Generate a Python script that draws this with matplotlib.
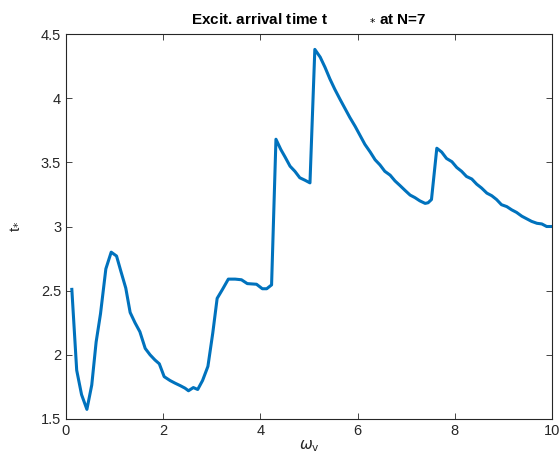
import matplotlib
matplotlib.use("Agg")
import matplotlib.pyplot as plt

omega = [0.12, 0.22, 0.32, 0.43, 0.53, 0.62, 0.71, 0.82, 0.93, 1.04, 1.13, 1.23, 1.32, 1.42,
         1.52, 1.63, 1.73, 1.83, 1.92, 2.02, 2.14, 2.24, 2.35, 2.45, 2.52, 2.62, 2.71, 2.81,
         2.92, 3.02, 3.11, 3.22, 3.34, 3.48, 3.61, 3.73, 3.92, 4.04, 4.13, 4.23,
         4.32, 4.42, 4.51, 4.61, 4.71, 4.81, 4.92, 5.02,
         5.12, 5.23, 5.33, 5.43, 5.53, 5.64, 5.74, 5.84, 5.95, 6.05, 6.15, 6.26, 6.36, 6.46,
         6.56, 6.67, 6.77, 6.87, 6.98, 7.08, 7.18, 7.28, 7.39, 7.45, 7.52,
         7.63, 7.73, 7.83, 7.94, 8.04, 8.14, 8.24, 8.35, 8.45, 8.55, 8.66, 8.76, 8.86, 8.96,
         9.07, 9.17, 9.27, 9.38, 9.48, 9.58, 9.69, 9.79, 9.89, 9.99]
t_star = [2.51, 1.88, 1.69, 1.575, 1.765, 2.10, 2.32, 2.67, 2.80, 2.77, 2.65, 2.52, 2.33, 2.25,
          2.18, 2.05, 2.00, 1.96, 1.93, 1.83, 1.80, 1.78, 1.76, 1.74, 1.72, 1.745, 1.73, 1.80,
          1.91, 2.17, 2.44, 2.51, 2.59, 2.59, 2.585, 2.555, 2.55, 2.515, 2.515, 2.545,
          3.68, 3.60, 3.54, 3.47, 3.43, 3.38, 3.36, 3.34,
          4.38, 4.32, 4.24, 4.15, 4.07, 3.99, 3.92, 3.85, 3.78, 3.71, 3.64, 3.58, 3.52, 3.48,
          3.43, 3.40, 3.355, 3.32, 3.28, 3.245, 3.225, 3.20, 3.18, 3.185, 3.21,
          3.61, 3.58, 3.53, 3.505, 3.46, 3.43, 3.39, 3.37, 3.33, 3.30, 3.26, 3.24, 3.21, 3.17,
          3.155, 3.13, 3.11, 3.08, 3.06, 3.04, 3.025, 3.02, 3.00, 3.00]

xticks = [0, 2, 4, 6, 8, 10]
yticks = [1.5, 2, 2.5, 3, 3.5, 4, 4.5]
ytick_labels = ["1.5", "2", "2.5", "3", "3.5", "4", "4.5"]

plt.rcParams['font.family'] = ['Liberation Sans', 'DejaVu Sans']
fig = plt.figure(figsize=(5.59, 4.53), dpi=100)
ax = fig.add_axes([66/559, 1 - 419/453, (552-66)/559, (419-34)/453])
ax.plot(omega, t_star, color='#0072BD', linewidth=2.2)
ax.set_xlim(0, 10)
ax.set_ylim(1.5, 4.5)
ax.set_xticks(xticks)
ax.set_xticklabels([str(v) for v in xticks])
ax.set_yticks(yticks)
ax.set_yticklabels(ytick_labels)
ax.tick_params(direction='in', top=True, right=True, labelsize=10.5, length=4,
               width=0.6, color='#262626', labelcolor='#262626')
for s in ax.spines.values():
    s.set_linewidth(0.8)
    s.set_color('#262626')
ax.set_title("Excit. arrival time t          $_{*}$ at N=7", fontsize=11, fontweight='bold', pad=9)
ax.set_xlabel(r"$\omega_{\rm v}$", fontsize=11, labelpad=0, color='#262626')
ax.set_ylabel(r"t$_{*}$", fontsize=11, labelpad=14, rotation=90, color='#262626')
fig.savefig("out.png", dpi=100)
